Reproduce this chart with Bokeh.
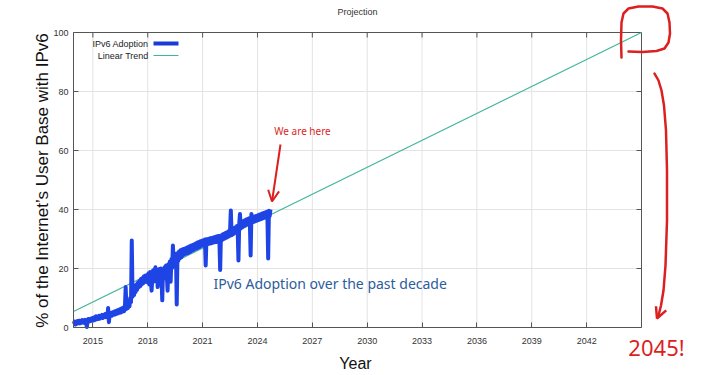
import numpy as np
from math import pi
from bokeh.plotting import figure
from bokeh.models import (Range1d, FixedTicker, LinearAxis, Label, Arrow, OpenHead, PolyAnnotation)
from bokeh.embed import file_html
from bokeh.resources import INLINE

# ---------------- data ----------------
# IPv6 adoption (%), semi-monthly readings, starting at the left edge of 2014
adoption_2014 = [1.2, 2.0, 1.0, 1.9, 1.3, 2.2, 1.5, 2.3, 1.4, 2.0, 1.6, 2.5,
                 1.7, 2.4, 1.5, 2.6, 1.8, 0.2, 2.1, 2.9, 2.0, 2.8, 2.2, 3.0]
adoption_2015 = [2.3, 3.2, 2.4, 3.5, 2.6, 3.8, 2.8, 3.6, 2.9, 4.0, 3.0, 3.9,
                 3.3, 4.3, 3.2, 4.2, 3.6, 4.6, 3.5, 4.4, 3.9, 6.6, 1.8, 4.6]
adoption_2016 = [3.9, 5.0, 4.0, 5.2, 4.3, 5.4, 4.4, 5.6, 4.6, 5.8, 4.8, 6.0,
                 5.0, 6.3, 5.1, 6.5, 5.4, 6.8, 5.5, 7.0, 13.7, 6.3, 7.4, 6.6]
adoption_2017 = [8.5, 7.2, 10.0, 8.6, 29.5, 10.4, 12.6, 11.0, 13.5, 12.0, 14.6, 12.8,
                 15.2, 13.6, 15.8, 14.0, 16.4, 14.6, 16.8, 15.0, 17.4, 15.4, 17.6, 15.9]
adoption_2018 = [17.8, 15.2, 18.4, 14.6, 18.8, 16.0, 12.5, 17.0, 19.4, 15.6, 19.0, 20.4,
                 16.8, 19.6, 13.7, 18.2, 19.8, 15.8, 20.0, 17.2, 9.2, 19.6, 16.6, 20.4]
adoption_2019 = [18.4, 21.0, 17.6, 12.5, 21.4, 18.8, 22.4, 15.5, 23.2, 20.2, 27.8, 21.8,
                 24.6, 22.0, 25.0, 7.8, 25.2, 22.6, 25.8, 23.4, 26.2, 23.8, 26.4, 24.4]
adoption_2020 = [26.6, 24.8, 26.8, 25.0, 27.0, 25.2, 27.3, 25.4, 27.5, 25.7, 27.8, 26.0,
                 28.0, 26.3, 28.2, 26.6, 28.5, 26.8, 28.8, 27.0, 29.0, 27.3, 29.2, 27.6]
adoption_2021 = [29.4, 27.8, 29.6, 28.0, 29.8, 21.0, 29.9, 28.2, 30.0, 28.4, 30.2, 28.5,
                 30.3, 28.6, 30.4, 28.8, 30.6, 28.9, 30.8, 29.0, 30.9, 29.2, 31.0, 29.4]
adoption_2022 = [19.5, 31.2, 29.6, 31.5, 29.9, 31.8, 30.2, 32.0, 30.4, 32.3, 30.7, 32.6,
                 31.0, 32.9, 39.7, 31.3, 33.2, 31.6, 33.6, 32.0, 34.0, 32.4, 34.4, 32.8]
adoption_2023 = [22.7, 35.0, 38.5, 33.6, 35.6, 34.0, 36.0, 34.3, 36.3, 34.6, 36.6, 34.9,
                 36.8, 35.1, 37.0, 35.3, 24.4, 38.5, 35.6, 37.4, 35.8, 37.6, 36.0, 37.8]
adoption_2024 = [36.2, 38.0, 36.4, 38.2, 36.6, 38.4, 36.8, 38.6, 37.0, 38.8, 37.2, 39.0,
                 37.5, 39.2, 37.8, 23.4, 39.6, 37.8, 40.0]
series_start = 2013.96          # first reading
readings_per_year = 24

trend_years = [2013.94, 2045.0]
trend_values = [5.4, 100.0]

year_ticks = [2015, 2018, 2021, 2024, 2027, 2030, 2033, 2036, 2039, 2042]
pct_ticks = [0, 20, 40, 60, 80, 100]
callout_text = "2045!"

adoption = (adoption_2014 + adoption_2015 + adoption_2016 + adoption_2017 +
            adoption_2018 + adoption_2019 + adoption_2020 + adoption_2021 +
            adoption_2022 + adoption_2023 + adoption_2024)
dates = [series_start + i / readings_per_year for i in range(len(adoption))]

# ---------------- styling / geometry ----------------
BLUE = "#1f44e6"
TEAL = "#3fb59a"
RED = "#dc1f1f"
HAND_BLUE = "#2d5c9c"
AXIS = "#555555"
GRID = "#e3e3e3"
FONT = "Liberation Sans"

X0, X1 = 2013.94, 2045.0                    # plotted year span (plot box)
Y0, Y1 = 0, 100
CW, CH = 708, 372                            # canvas size
FL, FT, FW, FH = 73, 32, 568, 295            # plot box left/top/width/height (px)
PX_PER_YEAR = FW / (X1 - X0)
PX_PER_PCT = FH / (Y1 - Y0)

# the drawing area spans the whole canvas so that the hand-drawn notes
# around the plot box are not clipped; the plot box is drawn inside it
x_range = Range1d(X0 - FL / PX_PER_YEAR, X0 + (CW - FL) / PX_PER_YEAR)
y_range = Range1d(Y0 - (CH - FT - FH) / PX_PER_PCT, Y1 + FT / PX_PER_PCT)

p = figure(width=CW, height=CH, x_range=x_range, y_range=y_range,
           x_axis_location=None, y_axis_location=None,
           output_backend="svg", toolbar_location=None,
           min_border_left=0, min_border_right=0, min_border_top=0, min_border_bottom=0)
p.background_fill_color = "white"
p.border_fill_color = "white"
p.outline_line_color = None
p.grid.visible = False

def pos(px, py):
    return X0 + (px - FL) / PX_PER_YEAR, (FT + FH - py) / PX_PER_PCT

# grid lines, box edges and mirrored inward ticks
p.segment(x0=year_ticks, x1=year_ticks, y0=[Y0] * len(year_ticks), y1=[Y1] * len(year_ticks),
          line_color=GRID, line_width=1)
p.segment(x0=[X0] * len(pct_ticks), x1=[X1] * len(pct_ticks), y0=pct_ticks, y1=pct_ticks,
          line_color=GRID, line_width=1)
p.segment(x0=[X0, X1], x1=[X1, X1], y0=[Y1, Y0], y1=[Y1, Y1], line_color=AXIS, line_width=1)
tick_len = 5
p.segment(x0=year_ticks, x1=year_ticks, y0=[Y1] * len(year_ticks),
          y1=[Y1 - tick_len / PX_PER_PCT] * len(year_ticks), line_color=AXIS, line_width=1)
p.segment(x0=[X1] * len(pct_ticks), x1=[X1 - tick_len / PX_PER_YEAR] * len(pct_ticks),
          y0=pct_ticks, y1=pct_ticks, line_color=AXIS, line_width=1)

# axes fixed on the plot box edges
def style_axis(ax):
    ax.major_tick_in = 5
    ax.major_tick_out = 0
    ax.minor_tick_line_color = None
    ax.axis_line_color = AXIS
    ax.major_tick_line_color = AXIS
    ax.major_label_text_font = FONT
    ax.major_label_text_font_size = "9px"
    ax.major_label_text_color = "#333333"

xaxis = LinearAxis(ticker=FixedTicker(ticks=year_ticks), fixed_location=Y0, bounds=(X0, X1),
                   major_label_standoff=10)
yaxis = LinearAxis(ticker=FixedTicker(ticks=pct_ticks), fixed_location=X0, bounds=(Y0, Y1),
                   major_label_standoff=5)
style_axis(xaxis)
style_axis(yaxis)
p.add_layout(xaxis, "below")
p.add_layout(yaxis, "left")

# titles
tx, ty = pos(357, 11.5)
p.add_layout(Label(x=tx, y=ty, text="Projection", text_font=FONT, text_font_size="9px",
                   text_color="#333333", text_align="center", text_baseline="middle"))
tx, ty = pos(355, 363)
p.add_layout(Label(x=tx, y=ty, text="Year", text_font=FONT, text_font_size="16px",
                   text_color="#111111", text_align="center", text_baseline="middle"))
tx, ty = pos(42, 180)
p.add_layout(Label(x=tx, y=ty, text="% of the Internet\u2019s User Base with IPv6", angle=pi / 2,
                   text_font=FONT, text_font_size="17px", text_color="#111111",
                   text_align="center", text_baseline="middle"))

# ---------------- data marks ----------------
p.line(trend_years, trend_values, line_color=TEAL, line_width=1.2)
p.line(dates, adoption, line_color=BLUE, line_width=4, line_join="round")

# ---------------- annotations ----------------
# legend (text first, sample to the right, as in the reference)
for label, py, color, lw in [("IPv6 Adoption", 43, "#1a3bd6", 4), ("Linear Trend", 55, TEAL, 1.2)]:
    lx, ly = pos(148, py)
    p.add_layout(Label(x=lx, y=ly, text=label, text_font=FONT, text_font_size="9px",
                       text_color="#222222", text_align="right", text_baseline="middle"))
    sx0, sy = pos(153, py)
    sx1, _ = pos(178, py)
    p.add_layout(Arrow(x_start=sx0, y_start=sy, x_end=sx1, y_end=sy, start=None, end=None,
                       line_color=color, line_width=lw))

# "We are here"
wx, wy = pos(302, 130)
p.add_layout(Label(x=wx, y=wy, text="We are here", text_font="Noto Sans", text_font_size="10px",
                   text_color=RED, text_align="center", text_baseline="middle"))
ax0, ay0 = pos(280, 144)
ax1, ay1 = pos(271.5, 201)
p.add_layout(Arrow(x_start=ax0, y_start=ay0, x_end=ax1, y_end=ay1, line_color=RED, line_width=2,
                   end=OpenHead(size=11, line_color=RED, line_width=2)))

# "IPv6 Adoption over the past decade"
hx, hy = pos(213, 283)
p.add_layout(Label(x=hx, y=hy, text="IPv6 Adoption over the past decade", text_font="Noto Sans",
                   text_font_size="14px", text_color=HAND_BLUE, text_align="left",
                   text_baseline="middle"))

# hand-drawn red strokes: open paths traced out and back as one smooth outline
def stroke(points, width=2.5):
    pts = [pos(a, b) for a, b in points]
    xs = [q[0] for q in pts]
    ys = [q[1] for q in pts]
    p.add_layout(PolyAnnotation(xs=xs + xs[::-1], ys=ys + ys[::-1], fill_alpha=0,
                                line_color=RED, line_alpha=1.0, line_width=width,
                                line_join="round", line_cap="round"))

stroke([(621, 57), (620.5, 40), (621, 22), (623, 13), (628, 8), (638, 6), (652, 6),
        (662, 8), (667, 13), (669, 22), (669.5, 33), (668, 42), (664, 48), (656, 50.5),
        (642, 51.5), (628, 51)])
stroke([(654, 73), (658, 80), (661, 90), (663.5, 105), (665.5, 130), (666.5, 170),
        (666.5, 220), (665, 265), (663, 290), (660.5, 305), (658.5, 313)])
hx0, hy0 = pos(658.5, 313)
hx1, hy1 = pos(656.5, 318)
p.add_layout(Arrow(x_start=hx0, y_start=hy0, x_end=hx1, y_end=hy1, line_color=RED, line_width=2.5,
                   end=OpenHead(size=11, line_color=RED, line_width=2.5)))

# "2045!"
cx, cy = pos(656, 346)
p.add_layout(Label(x=cx, y=cy, text=callout_text, text_font="Noto Sans", text_font_size="22px",
                   text_color=RED, text_align="center", text_baseline="middle"))

open("out.html", "w").write(file_html(p, INLINE))
